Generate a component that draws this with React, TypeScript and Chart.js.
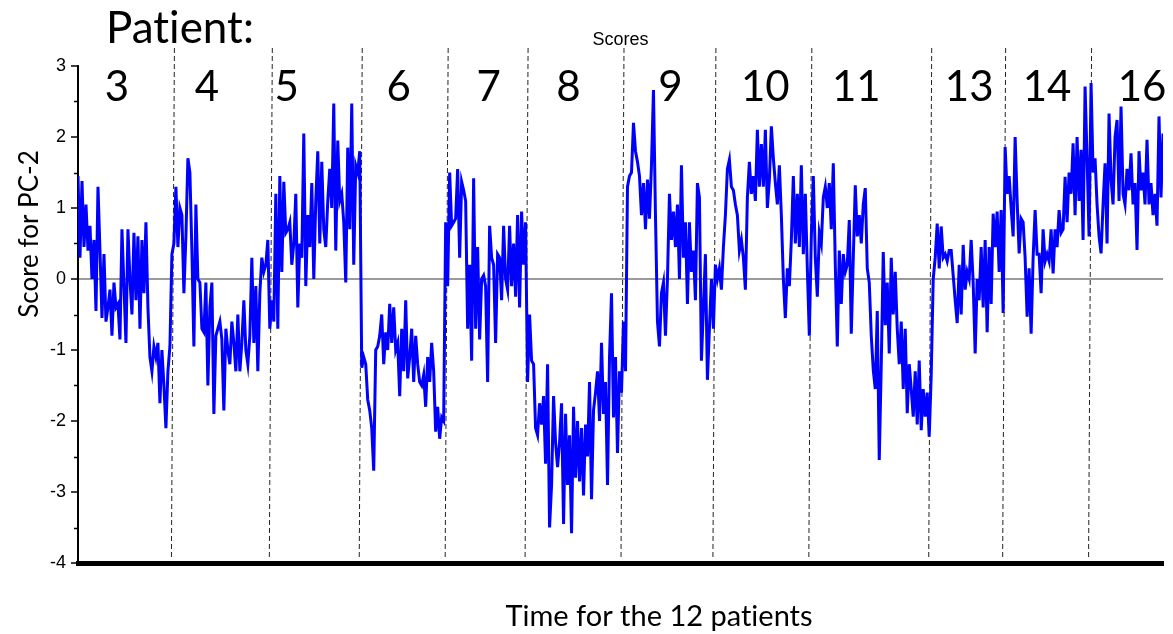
import React, { useEffect, useRef } from 'react';
import { Chart, registerables } from 'chart.js';

Chart.register(...registerables);

// Patient identifiers (one segment per patient, in time order)
const patients = ['3', '4', '5', '6', '7', '8', '9', '10', '11', '13', '14', '16'];

// PC-2 scores per patient
const p3 = [1.45, 0.3, 1.38, 0.45, 1.05, 0.4, 0.75, 0.0, 0.55, -0.45, 1.3, 0.4, -0.55, 0.35, -0.6, -0.4, -0.15, -0.8, -0.05, -0.4, -0.35, -0.85, 0.7, -0.1, -0.9, 0.7, 0.0, -0.5, 0.65, -0.3, 0.6, -0.7, 0.55, -0.2, 0.8, -0.4, -1.1, -1.3, -0.95, -1.1, -0.9, -1.75, -1.0, -1.5, -2.1, -1.3, -0.95, 0.35];
const p4 = [0.5, 1.3, 0.45, 1.0, 0.9, -0.2, 0.6, 1.7, 1.5, 0.4, -0.95, 1.05, 0.0, -0.05, -0.7, -0.75, -0.05, -1.5, -0.4, -0.05, -1.9, -0.8, -0.7, -0.6, -0.85, -1.85, -0.7, -1.0, -1.2, -0.6, -0.9, -1.3, -0.5, -1.3, -0.9, -0.3, -1.0, -1.2, -0.8, 0.3, -0.9, -0.1, -1.3, -0.2, 0.3, 0.1, 0.2, 0.55, -0.7];
const p5 = [-0.3, -0.6, 1.2, -0.7, 1.45, 0.1, 1.37, 0.65, 0.7, 0.8, 0.2, 0.5, 1.2, -0.4, 0.5, 0.3, 2.05, -0.1, 0.9, 0.45, 1.35, 0.0, 1.1, 1.8, 0.5, 1.65, 0.7, 0.45, 1.1, 1.55, 1.0, 2.47, 0.4, 1.95, 1.1, 1.2, 0.8, -0.05, 1.85, 0.7, 2.47, 0.2, 1.6, 1.5, 1.8];
const p6 = [-1.25, -1.1, -1.2, -1.7, -1.85, -2.1, -2.7, -1.0, -0.95, -0.8, -0.5, -1.2, -0.75, -1.0, -0.35, -0.9, -0.4, -1.0, -0.9, -1.65, -0.7, -1.3, -0.3, -1.4, -1.1, -0.7, -1.45, -0.8, -1.2, -1.45, -1.5, -1.35, -1.8, -1.1, -1.45, -0.9, -1.3, -2.15, -1.8, -2.25, -1.95, -2.0, 0.8];
const p7 = [-0.1, 1.5, 0.75, 0.8, 0.85, 1.55, 0.3, 1.37, 1.25, 1.1, -0.7, 0.2, -1.15, 1.42, -0.7, 0.45, -0.85, 0.0, 0.05, -0.1, -1.45, 0.75, 0.3, 0.2, -0.9, 0.35, 0.3, -0.3, 0.75, 0.0, -0.15, 0.75, -0.1, 0.5, -0.25, 0.9, -0.4, 0.95, 0.2, 0.8];
const p8 = [-1.45, -0.5, -1.15, -1.2, -2.1, -2.2, -1.75, -2.05, -1.65, -2.6, -1.2, -3.5, -2.9, -1.65, -2.3, -2.65, -2.3, -1.75, -3.45, -1.9, -2.9, -2.2, -3.58, -1.8, -2.8, -2.0, -2.85, -2.1, -3.05, -2.05, -2.5, -1.45, -3.1, -1.85, -1.6, -1.3, -2.0, -0.9, -1.9, -1.45, -2.9, -1.1, -0.2, -1.95, -1.1, -2.45, -1.3, -1.6];
const p9 = [-0.6, -1.3, 1.3, 1.45, 1.5, 2.2, 1.8, 1.65, 1.45, 0.9, 1.35, 0.7, 1.4, 0.85, 1.6, 2.66, 0.9, -0.6, -0.95, -0.2, -0.05, -0.8, 0.0, 1.2, 0.55, 0.95, 0.45, 1.05, 0.0, 1.6, 0.3, 0.8, -0.35, 0.8, 0.1, 0.4, -0.3, 1.35, 1.15, -1.15, -0.4, 0.35, -1.42, -0.7, 0.0, -0.7];
const p10 = [0.2, 0.0, 0.15, -0.15, 0.45, 0.9, 1.55, 1.68, 1.3, 1.25, 1.05, 0.9, 0.4, 0.55, 0.3, -0.15, 1.15, 1.65, 1.2, 1.45, 1.1, 2.1, 1.3, 1.9, 1.3, 2.1, 1.0, 1.4, 2.15, 1.7, 1.35, 1.05, 1.6, 0.9, 0.0, -0.55, 0.15, -0.1, 0.55, 1.45, 0.5, 1.2, 0.45, 1.6, 0.35, 1.2, 0.15, -0.8];
const p11 = [0.6, 1.45, 0.3, -0.25, 0.65, 0.5, 1.15, 1.3, 1.0, 1.35, 0.7, 1.63, 0.2, -0.95, 0.4, -0.35, 0.35, 0.1, 0.2, 0.83, -0.77, 0.3, 1.32, 0.6, 0.9, 0.5, 1.05, 1.28, 0.15, -0.05, -0.8, -1.28, -1.55, -0.45, -2.55, -1.2, 0.38, -0.65, -0.05, -1.05, 0.3, -0.5, 0.1, -0.7, -1.2, -0.6, -1.55, -0.7, -1.89, -1.2, -1.55, -1.94, -1.3, -2.05, -1.15, -2.13, -1.55, -1.94, -1.6, -2.22];
const p13 = [-1.35, 0.0, 0.3, 0.78, 0.15, 0.74, 0.3, 0.35, 0.25, 0.4, 0.4, 0.05, -0.3, -0.62, 0.2, -0.5, 0.48, -0.15, 0.1, 0.0, 0.55, -0.05, -1.05, 0.0, -0.3, 0.45, -0.4, 0.55, -0.75, 0.45, -0.35, 0.92, 0.45, 0.95, 0.1, 0.97, -0.48];
const p14 = [1.86, 1.2, 1.45, 1.0, 0.6, 2.0, 1.1, 0.36, 0.85, 0.8, 0.3, -0.53, 0.15, -0.77, 0.3, 0.97, 0.35, 0.35, -0.2, 0.7, 0.25, 0.35, 0.25, 0.7, 0.08, 0.7, 0.45, 0.97, 0.65, 0.7, 1.44, 0.8, 1.5, 1.2, 1.91, 0.9, 2.0, 1.1, 1.82, 0.55, 2.71, 1.7, 0.6];
const p16 = [2.76, 1.5, 1.7, 1.05, 0.6, 0.36, 1.05, 1.63, 0.5, 2.33, 1.4, 1.05, 2.0, 2.24, 1.1, 2.43, 1.2, 1.05, 1.55, 1.25, 1.77, 1.05, 1.35, 0.41, 1.8, 1.25, 1.5, 1.05, 1.96, 1.05, 1.35, 0.9, 1.2, 0.75, 2.29, 1.15, 2.05];

const series = [p3, p4, p5, p6, p7, p8, p9, p10, p11, p13, p14, p16];

// y-axis range / ticks
const yMin = -4;
const yMax = 3;
const yMinorTicks = [-3.5, -2.5, -1.5, -0.5, 0.5, 1.5, 2.5];

const chartTitle = 'Scores';
const yTitle = 'Score for PC-2';
const xTitle = 'Time for the 12 patients';
const patientHeading = 'Patient:';

// layout-only: horizontal nudges (px) of the patient numbers from segment centres
const labelShift = [-8, -15, -29, -5, 2, -6, 2, 3, -14, 2, 0, 15];

const scores: number[] = series.flat();
const timeIndex = scores.map((_, i) => i);

const BIG_FONT = 'Lato, "Open Sans", "Noto Sans", sans-serif';
const SMALL_FONT = '"Liberation Sans", Arial, sans-serif';

const annotatePlugin = {
  id: 'annotate',
  beforeDatasetsDraw(chart: any) {
    const { ctx, chartArea, scales } = chart;
    const x = scales.x;
    const y = scales.y;
    ctx.save();
    // minor y ticks
    ctx.strokeStyle = '#000';
    ctx.lineWidth = 1.5;
    yMinorTicks.forEach((v) => {
      const py = Math.round(y.getPixelForValue(v)) + 0.5;
      ctx.beginPath();
      ctx.moveTo(chartArea.left - 4, py);
      ctx.lineTo(chartArea.left, py);
      ctx.stroke();
    });
    // dashed patient boundaries
    ctx.setLineDash([5, 3]);
    ctx.lineWidth = 1;
    ctx.strokeStyle = '#222';
    let cum = 0;
    for (let i = 0; i < series.length - 1; i++) {
      cum += series[i].length;
      const px = x.getPixelForValue(cum - 0.5);
      ctx.beginPath();
      ctx.moveTo(px + 1.5, chartArea.top - 18);
      ctx.lineTo(px - 1.5, chartArea.bottom - 3);
      ctx.stroke();
    }
    ctx.restore();
  },
  afterDraw(chart: any) {
    const { ctx, chartArea, scales } = chart;
    const x = scales.x;
    ctx.save();
    try {
      (ctx as any).textRendering = 'optimizeSpeed';
    } catch (e) {
      /* ignore */
    }
    ctx.fillStyle = '#000';
    // Patient heading
    ctx.font = `44px ${BIG_FONT}`;
    ctx.textAlign = 'left';
    ctx.textBaseline = 'alphabetic';
    ctx.fillText(patientHeading, 106, 43);
    // patient numbers
    ctx.font = `42px ${BIG_FONT}`;
    ctx.textAlign = 'center';
    let start = 0;
    series.forEach((s, i) => {
      const mid = start + (s.length - 1) / 2;
      const px = x.getPixelForValue(mid) + labelShift[i];
      ctx.fillText(patients[i], px, chartArea.top + 35);
      start += s.length;
    });
    // axis titles
    ctx.textBaseline = 'middle';
    ctx.font = `29px ${BIG_FONT}`;
    ctx.fillText(xTitle, 659, 617);
    ctx.font = `26px ${BIG_FONT}`;
    ctx.translate(30, 234);
    ctx.rotate(-Math.PI / 2);
    ctx.fillText(yTitle, 0, 0);
    ctx.restore();
  },
};

export default function App() {
  const canvasRef = useRef<HTMLCanvasElement | null>(null);

  useEffect(() => {
    const canvas = canvasRef.current;
    if (!canvas) return;
    const chart = new Chart(canvas, {
      type: 'line',
      data: {
        labels: timeIndex,
        datasets: [
          {
            data: scores,
            borderColor: '#0000FF',
            backgroundColor: '#0000FF',
            borderWidth: 3,
            pointRadius: 0,
            tension: 0,
            fill: false,
          },
        ],
      },
      options: {
        responsive: false,
        animation: false,
        events: [],
        layout: { padding: { top: 29, right: 10, left: 0, bottom: 0 } },
        plugins: {
          legend: { display: false },
          tooltip: { enabled: false },
          title: {
            display: true,
            text: chartTitle,
            fullSize: false,
            color: '#000',
            font: { family: SMALL_FONT, size: 18, weight: 'normal' },
            padding: { top: 0, bottom: 15.4 },
          },
        },
        scales: {
          x: {
            type: 'linear',
            min: 0,
            max: scores.length - 1,
            afterFit: (scale: any) => {
              scale.height = 71;
            },
            ticks: { display: false },
            grid: { display: false, drawTicks: false },
            border: { display: true, width: 5, color: '#000' },
          },
          y: {
            min: yMin,
            max: yMax,
            afterFit: (scale: any) => {
              scale.width = 78;
            },
            ticks: {
              stepSize: 1,
              color: '#000',
              padding: 5,
              font: { family: SMALL_FONT, size: 18 },
            },
            grid: {
              drawOnChartArea: true,
              color: (c: any) => (c.tick && c.tick.value === 0 ? '#9a9a9a' : 'rgba(0,0,0,0)'),
              lineWidth: 2,
              tickColor: '#000',
              tickLength: 7,
              tickWidth: 1.5,
            },
            border: { display: true, width: 2, color: '#000' },
          },
        },
      },
      plugins: [annotatePlugin],
    });
    return () => chart.destroy();
  }, []);

  return (
    <div style={{ position: 'fixed', left: 0, top: 0, width: 1173, height: 634, background: '#fff' }}>
      <canvas ref={canvasRef} width={1173} height={634} style={{ display: 'block' }} />
    </div>
  );
}
